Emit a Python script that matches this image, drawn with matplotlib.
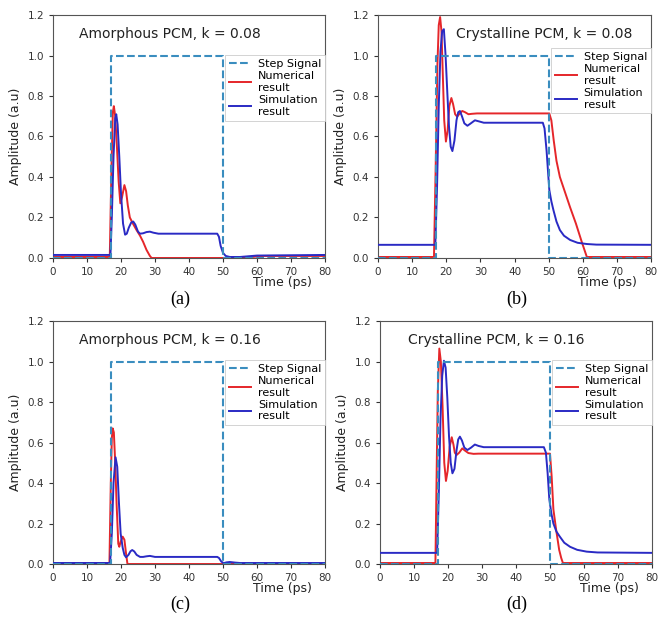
import matplotlib
matplotlib.use("Agg")
import matplotlib.pyplot as plt

# step input (same in all panels)
t_step = [0, 17, 17, 50, 50, 80]
step = [0, 0, 1, 1, 0, 0]

# (a) amorphous, k = 0.08
t_num_a = [0, 16.7, 17.2, 17.6, 17.9, 18.3, 18.8, 19.3, 19.8, 20.3, 21.0, 21.5, 22.0, 22.6,
           23.5, 24.5, 25.6, 26.5, 27.5, 28.5, 29.0, 50, 55, 62, 80]
num_a = [0.005, 0.005, 0.45, 0.72, 0.75, 0.70, 0.55, 0.38, 0.27, 0.30, 0.36, 0.33, 0.26, 0.20,
         0.17, 0.14, 0.11, 0.08, 0.04, 0.01, 0.0, 0.0, 0.0, 0.01, 0.01]
t_sim_a = [0, 16.9, 17.3, 17.8, 18.3, 18.6, 19.0, 19.5, 20.0, 20.6, 21.2, 21.7, 22.3, 23.0,
           23.6, 24.2, 25.0, 25.6, 26.5, 27.5, 28.5, 29.5, 31, 48.3, 48.8, 49.3, 50.0, 50.8,
           52, 55, 60, 80]
sim_a = [0.015, 0.015, 0.2, 0.5, 0.69, 0.71, 0.66, 0.5, 0.32, 0.17, 0.115, 0.12, 0.15, 0.175,
         0.18, 0.165, 0.13, 0.12, 0.122, 0.128, 0.13, 0.125, 0.12, 0.12, 0.105, 0.06, 0.025, 0.01,
         0.005, 0.005, 0.012, 0.015]

# (b) crystalline, k = 0.08
t_num_b = [0, 16.4, 16.9, 17.4, 17.8, 18.2, 18.6, 19.0, 19.4, 19.9, 20.4, 20.9, 21.5, 22.0,
           22.6, 23.2, 24.0, 24.7, 25.5, 26.5, 27.5, 29, 50.2, 50.8, 51.5, 52.3, 53.3, 54.5,
           56.3, 58, 59.7, 60.5, 61.2, 80]
num_b = [0.005, 0.005, 0.45, 0.95, 1.15, 1.19, 1.12, 0.9, 0.68, 0.575, 0.63, 0.75, 0.79, 0.76,
         0.71, 0.698, 0.715, 0.726, 0.72, 0.71, 0.712, 0.714, 0.714, 0.68, 0.58, 0.48, 0.40, 0.34,
         0.25, 0.17, 0.08, 0.04, 0.005, 0.005]
t_sim_b = [0, 16.8, 17.3, 17.8, 18.3, 18.8, 19.3, 19.8, 20.3, 20.8, 21.3, 21.8, 22.4, 23.0,
           23.5, 24.0, 24.6, 25.3, 26.2, 27.2, 28.4, 29.5, 31, 48.3, 48.8, 49.4, 50.2, 50.8,
           51.4, 52.3, 53.3, 54.5, 56.3, 58.5, 61.2, 64, 80]
sim_b = [0.065, 0.065, 0.35, 0.75, 1.02, 1.12, 1.13, 1.0, 0.82, 0.65, 0.55, 0.528, 0.58, 0.68,
         0.72, 0.726, 0.70, 0.665, 0.653, 0.665, 0.68, 0.675, 0.668, 0.668, 0.64, 0.53, 0.336,
         0.28, 0.237, 0.18, 0.138, 0.11, 0.089, 0.075, 0.069, 0.066, 0.065]

# (c) amorphous, k = 0.16
t_num_c = [0, 16.6, 17.0, 17.3, 17.55, 17.9, 18.3, 18.7, 19.2, 19.5, 19.9, 20.5, 21.0, 21.5,
           21.9, 80]
num_c = [0.005, 0.005, 0.4, 0.62, 0.67, 0.65, 0.5, 0.3, 0.10, 0.085, 0.11, 0.135, 0.12, 0.05,
         0.0, 0.0]
t_sim_c = [0, 16.8, 17.3, 17.8, 18.4, 18.9, 19.4, 19.9, 20.5, 21.0, 21.5, 22.2, 22.8, 23.3,
           23.9, 24.6, 25.6, 26.5, 27.5, 28.5, 30, 48.3, 48.8, 49.5, 50.2, 51, 52, 53.5, 55, 80]
sim_c = [0.005, 0.005, 0.15, 0.40, 0.527, 0.48, 0.30, 0.15, 0.08, 0.045, 0.033, 0.045, 0.063,
         0.069, 0.062, 0.045, 0.035, 0.035, 0.038, 0.04, 0.035, 0.035, 0.03, 0.012, 0.004, 0.008,
         0.01, 0.007, 0.005, 0.005]

# (d) crystalline, k = 0.16
t_num_d = [0, 16.3, 16.7, 17.0, 17.45, 17.9, 18.4, 18.9, 19.4, 19.9, 20.5, 21.1, 21.6, 22.0,
           22.5, 23.3, 24.2, 25.0, 26.0, 27.5, 29, 50.0, 50.5, 51.0, 51.8, 52.7, 53.3, 53.8, 80]
num_d = [0.005, 0.005, 0.5, 0.85, 1.064, 1.0, 0.78, 0.5, 0.41, 0.46, 0.58, 0.626, 0.59, 0.55,
         0.538, 0.55, 0.571, 0.56, 0.548, 0.544, 0.545, 0.545, 0.43, 0.27, 0.17, 0.07, 0.03,
         0.005, 0.005]
t_sim_d = [0, 16.8, 17.3, 17.8, 18.3, 18.8, 19.3, 19.8, 20.3, 20.8, 21.3, 21.9, 22.5, 23.0,
           23.5, 24.1, 24.8, 25.7, 26.8, 27.9, 29, 30.5, 48.2, 48.8, 49.3, 49.8, 50.4, 51.0,
           51.9, 52.9, 54.2, 55.9, 58, 60.8, 64, 80]
sim_d = [0.055, 0.055, 0.35, 0.72, 0.93, 1.004, 0.97, 0.82, 0.63, 0.5, 0.448, 0.47, 0.56, 0.615,
         0.629, 0.61, 0.575, 0.563, 0.575, 0.59, 0.583, 0.577, 0.577, 0.55, 0.45, 0.32, 0.25,
         0.2, 0.16, 0.135, 0.105, 0.085, 0.07, 0.061, 0.057, 0.055]

titles = ["Amorphous PCM, k = 0.08", "Crystalline PCM, k = 0.08",
          "Amorphous PCM, k = 0.16", "Crystalline PCM, k = 0.16"]
tags = ["(a)", "(b)", "(c)", "(d)"]

C_STEP, C_NUM, C_SIM = "#3a8dbf", "#e5262a", "#2a2ac4"

panels = [
    (t_num_a, num_a, t_sim_a, sim_a),
    (t_num_b, num_b, t_sim_b, sim_b),
    (t_num_c, num_c, t_sim_c, sim_c),
    (t_num_d, num_d, t_sim_d, sim_d),
]
# axes rects in figure fraction (left, bottom, width, height)
rects = [(0.0798, 0.5859, 0.4097, 0.390), (0.5693, 0.5859, 0.4111, 0.390),
         (0.0798, 0.0947, 0.4097, 0.390), (0.5723, 0.0947, 0.4096, 0.390)]
title_pos = [(0.43, 0.92), (0.61, 0.92), (0.43, 0.92), (0.426, 0.92)]
leg_top = [0.835, 0.864, 0.84, 0.84]
tag_pos = [(0.272, 0.52), (0.778, 0.52), (0.272, 0.03), (0.778, 0.03)]

fig = plt.figure(figsize=(6.64, 6.23), dpi=100)
for i, (tn, yn, ts, ys) in enumerate(panels):
    ax = fig.add_axes(rects[i])
    hs, = ax.plot(t_step, step, color=C_STEP, ls="--", lw=1.5, zorder=4, label="Step Signal")
    hn, = ax.plot(tn, yn, color=C_NUM, lw=1.4, zorder=2, label="Numerical\nresult")
    hb, = ax.plot(ts, ys, color=C_SIM, lw=1.4, zorder=3, label="Simulation\nresult")
    ax.set_xlim(0, 80); ax.set_ylim(0, 1.2)
    ax.set_xticks(range(0, 81, 10)); ax.set_yticks([0, 0.2, 0.4, 0.6, 0.8, 1.0, 1.2])
    ax.tick_params(labelsize=7.5, colors="#333333", length=3)
    for s in ax.spines.values():
        s.set_color("#555555"); s.set_linewidth(0.8)
    ax.set_ylabel("Amplitude (a.u)", fontsize=9, color="#222222")
    ax.yaxis.set_label_coords(-0.115, 0.5)
    ax.set_xlabel("Time (ps)", fontsize=9, color="#222222", loc="right")
    ax.xaxis.set_label_coords(0.95, -0.075)
    ax.text(title_pos[i][0], title_pos[i][1], titles[i], transform=ax.transAxes,
            ha="center", va="center", fontsize=10, color="#222222")
    leg = ax.legend(handles=[hs, hn, hb], loc="upper right", bbox_to_anchor=(1.0, leg_top[i]),
                    fontsize=8, handlelength=2.0, borderpad=0.35, labelspacing=0.2,
                    handletextpad=0.6, borderaxespad=0, fancybox=False, framealpha=1)
    leg.get_frame().set_edgecolor("#cccccc"); leg.get_frame().set_linewidth(0.6)
    fig.text(tag_pos[i][0], tag_pos[i][1], tags[i], ha="center", va="center",
             fontsize=13, family="Liberation Serif")

fig.savefig("out.png", dpi=100)
